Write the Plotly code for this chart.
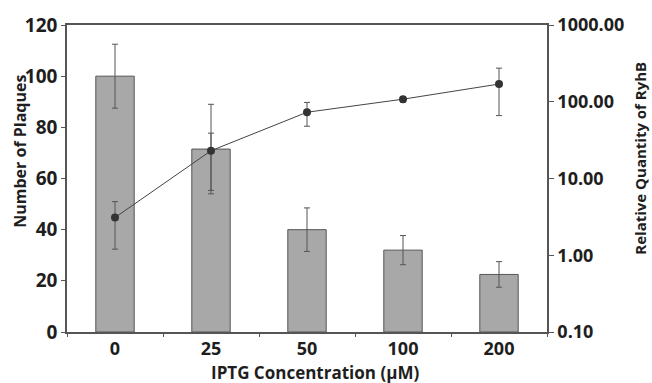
import plotly.graph_objects as go

categories = ["0", "25", "50", "100", "200"]
plaques = [100, 71.5, 40, 32, 22.5]
plaques_err = [12.5, 17.5, 8.5, 5.7, 5]
ryhb = [3.1, 23, 73, 108, 170]
ryhb_err = [1.9, 16, 25, 9, 104]

y2_ticks = [0.1, 1, 10, 100, 1000]
y2_text = ["0.10", "1.00", "10.00", "100.00", "1000.00"]

FONT = dict(family="Open Sans", size=16, color="#1e1e1e", weight="bold")
AX = "#555555"

fig = go.Figure()
fig.add_trace(go.Bar(
    x=categories, y=plaques, width=0.4,
    marker=dict(color="#a8a8a8", line=dict(color="#555555", width=1)),
    error_y=dict(type="data", array=plaques_err, color="#555555", thickness=1, width=3),
    showlegend=False,
))
fig.add_trace(go.Scatter(
    x=categories, y=ryhb, yaxis="y2", mode="lines+markers",
    line=dict(color="#444444", width=1),
    marker=dict(color="#333333", size=8),
    error_y=dict(type="data", array=ryhb_err, color="#555555", thickness=1, width=3),
    showlegend=False,
))

fig.update_layout(
    width=652, height=383,
    margin=dict(l=67, r=105, t=22, b=51),
    paper_bgcolor="white", plot_bgcolor="white",
    font=FONT,
    xaxis=dict(
        type="category", range=[-0.5, 4.5], tickson="boundaries",
        ticks="outside", ticklen=3, tickcolor=AX, showline=True, linecolor=AX, linewidth=1.5,
        mirror=True, showgrid=False, tickfont=dict(size=18),
    ),
    yaxis=dict(
        range=[0, 120], dtick=20, ticks="outside", ticklen=4, tickcolor=AX,
        showline=True, linecolor=AX, linewidth=1.5, showgrid=False, zeroline=False,
        tickfont=dict(size=19),
    ),
    yaxis2=dict(
        type="log", range=[-1, 3], overlaying="y", side="right",
        tickvals=y2_ticks, ticktext=y2_text, ticks="outside", ticklen=5, tickcolor=AX,
        showline=True, linecolor=AX, linewidth=1.5, showgrid=False, zeroline=False,
        tickfont=dict(size=18),
    ),
    annotations=[
        dict(text="Number of Plaques", xref="paper", yref="paper", x=(20 - 67) / 480,
             y=(332 - 150) / 310, xanchor="center", yanchor="middle", textangle=-90,
             showarrow=False, font=dict(size=16)),
        dict(text="Relative Quantity of RyhB", xref="paper", yref="paper", x=(640 - 67) / 480,
             y=(332 - 157) / 310, xanchor="center", yanchor="middle", textangle=-90,
             showarrow=False, font=dict(size=15)),
        dict(text="IPTG Concentration (μM)", xref="paper", yref="paper", x=(315 - 67) / 480,
             y=(332 - 373) / 310, xanchor="center", yanchor="middle",
             showarrow=False, font=dict(size=17)),
    ],
)

fig.write_html("out.html")
